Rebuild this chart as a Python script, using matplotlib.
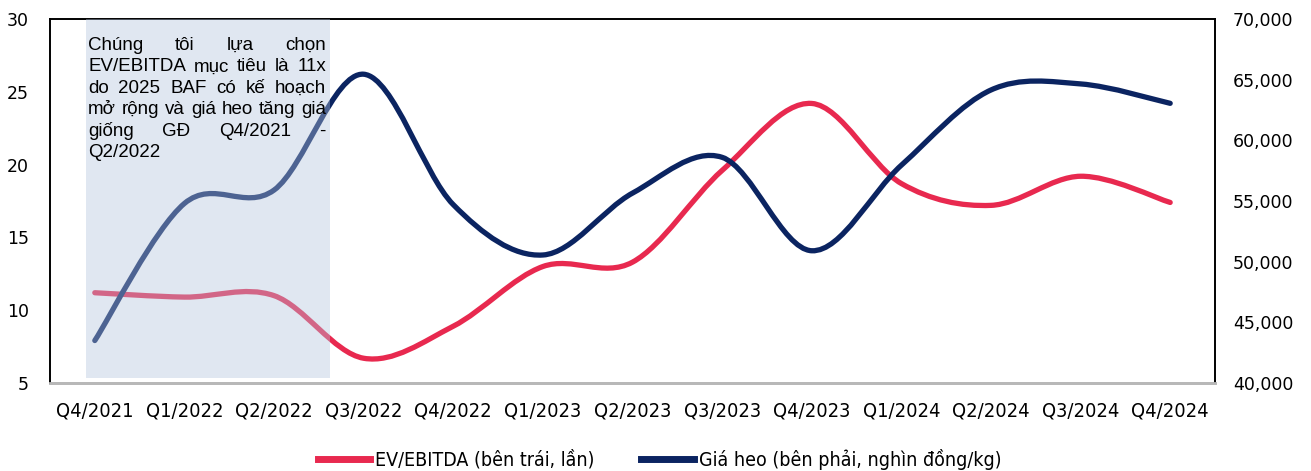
import numpy as np
import matplotlib
matplotlib.use("Agg")
import matplotlib.pyplot as plt
from matplotlib.path import Path
from matplotlib.patches import PathPatch, Rectangle
from matplotlib.lines import Line2D
from matplotlib.ticker import FuncFormatter
from matplotlib.font_manager import FontProperties

quarters = ["Q4/2021", "Q1/2022", "Q2/2022", "Q3/2022", "Q4/2022", "Q1/2023", "Q2/2023",
            "Q3/2023", "Q4/2023", "Q1/2024", "Q2/2024", "Q3/2024", "Q4/2024"]
ev_ebitda = [11.2, 10.9, 11.0, 6.7, 8.9, 13.0, 13.3, 19.6, 24.2, 18.7, 17.2, 19.2, 17.4]
pig_price = [43500, 54800, 55900, 65450, 54700, 50550, 55650, 58600, 50900, 57950, 64150, 64650, 63050]

note_lines = ["Chúng tôi lựa chọn",
              "EV/EBITDA mục tiêu là 11x",
              "do 2025 BAF có kế hoạch",
              "mở rộng và giá heo tăng giá",
              "giống GĐ Q4/2021 -",
              "Q2/2022"]

RED = "#e8294f"
NAVY = "#0b2461"
tick_font = FontProperties(family="DejaVu Sans", stretch="condensed", size=14.4)
legend_font = FontProperties(family="DejaVu Sans", stretch="condensed", size=14)


def smooth_path(x, y):
    # cubic Bezier segments through every point (Catmull-Rom style tangents)
    pts = np.column_stack([x, y]).astype(float)
    n = len(pts)
    verts = [pts[0]]
    codes = [Path.MOVETO]
    for i in range(n - 1):
        p_prev = pts[i - 1] if i > 0 else pts[i]
        p_next2 = pts[i + 2] if i + 2 < n else pts[i + 1]
        c1 = pts[i] + (pts[i + 1] - p_prev) / 6.0
        c2 = pts[i + 1] - (p_next2 - pts[i]) / 6.0
        verts += [c1, c2, pts[i + 1]]
        codes += [Path.CURVE4] * 3
    return Path(verts, codes)


fig = plt.figure(figsize=(13.11, 4.71), dpi=100)
ax = fig.add_axes([50 / 1311, 88 / 471, 1165 / 1311, 364 / 471])
ax2 = ax.twinx()

xs = np.arange(len(quarters))
ax.add_patch(PathPatch(smooth_path(xs, ev_ebitda), fill=False, edgecolor=RED,
                       lw=3.8, capstyle="round", joinstyle="round"))
ax2.add_patch(PathPatch(smooth_path(xs, pig_price), fill=False, edgecolor=NAVY,
                        lw=3.8, capstyle="round", joinstyle="round", zorder=2))

ax.set_xlim(-0.5, len(quarters) - 0.5)
ax.set_ylim(5, 30)
ax2.set_ylim(40000, 70000)
ax.set_yticks(range(5, 31, 5))
ax2.set_yticks(range(40000, 70001, 5000))
ax2.yaxis.set_major_formatter(FuncFormatter(lambda v, p: f"{int(v):,}"))

for a in (ax, ax2):
    a.tick_params(length=0)
    a.tick_params(axis="y", labelsize=12.5)
    for s in ("left", "right", "top"):
        a.spines[s].set_color("black")
        a.spines[s].set_linewidth(1.2)
    a.spines["bottom"].set_color("#b8b8b8")
    a.spines["bottom"].set_linewidth(2)
ax.tick_params(axis="y", pad=15)
ax2.tick_params(axis="y", pad=13)
ax.tick_params(axis="x", pad=13)

ax.set_xticks(xs)
ax.set_xticklabels(quarters, fontproperties=tick_font)

# translucent highlight over the first three quarters
ax2.add_patch(Rectangle((-0.1, 40400), 2.725, 29600, facecolor="#b2c4dc",
                        alpha=0.4, edgecolor="none", zorder=3))

# justified note inside the highlight
renderer = fig.canvas.get_renderer()
left_px, right_px = 88, 326
base_px = 50
line_step = 21.4
note_font = dict(fontsize=13.5, family="Liberation Sans")
probe_a = fig.text(0, 0, "a a", **note_font)
probe_b = fig.text(0, 0, "aa", **note_font)
space_w = probe_a.get_window_extent(renderer).width - probe_b.get_window_extent(renderer).width
probe_a.remove()
probe_b.remove()
for k, line in enumerate(note_lines):
    words = line.split()
    y = 1 - (base_px + k * line_step) / 471
    texts = [fig.text(0, y, w, va="baseline", ha="left", zorder=5, **note_font)
             for w in words]
    widths = [t.get_window_extent(renderer).width for t in texts]
    if k < len(note_lines) - 1 and len(words) > 1:
        gap = (right_px - left_px - sum(widths)) / (len(words) - 1)
    else:
        gap = space_w
    x = left_px
    for t, w in zip(texts, widths):
        t.set_x(x / 1311)
        x += w + gap

handles = [Line2D([], [], color=RED, lw=5),
           Line2D([], [], color=NAVY, lw=5)]
fig.legend(handles, ["EV/EBITDA (bên trái, lần)", "Giá heo (bên phải, nghìn đồng/kg)"],
           loc="lower center", bbox_to_anchor=(0.503, -0.035), ncol=2, frameon=False,
           prop=legend_font, handlelength=2.7, handletextpad=0.25, columnspacing=2.4)

fig.savefig("out.png", dpi=100)
